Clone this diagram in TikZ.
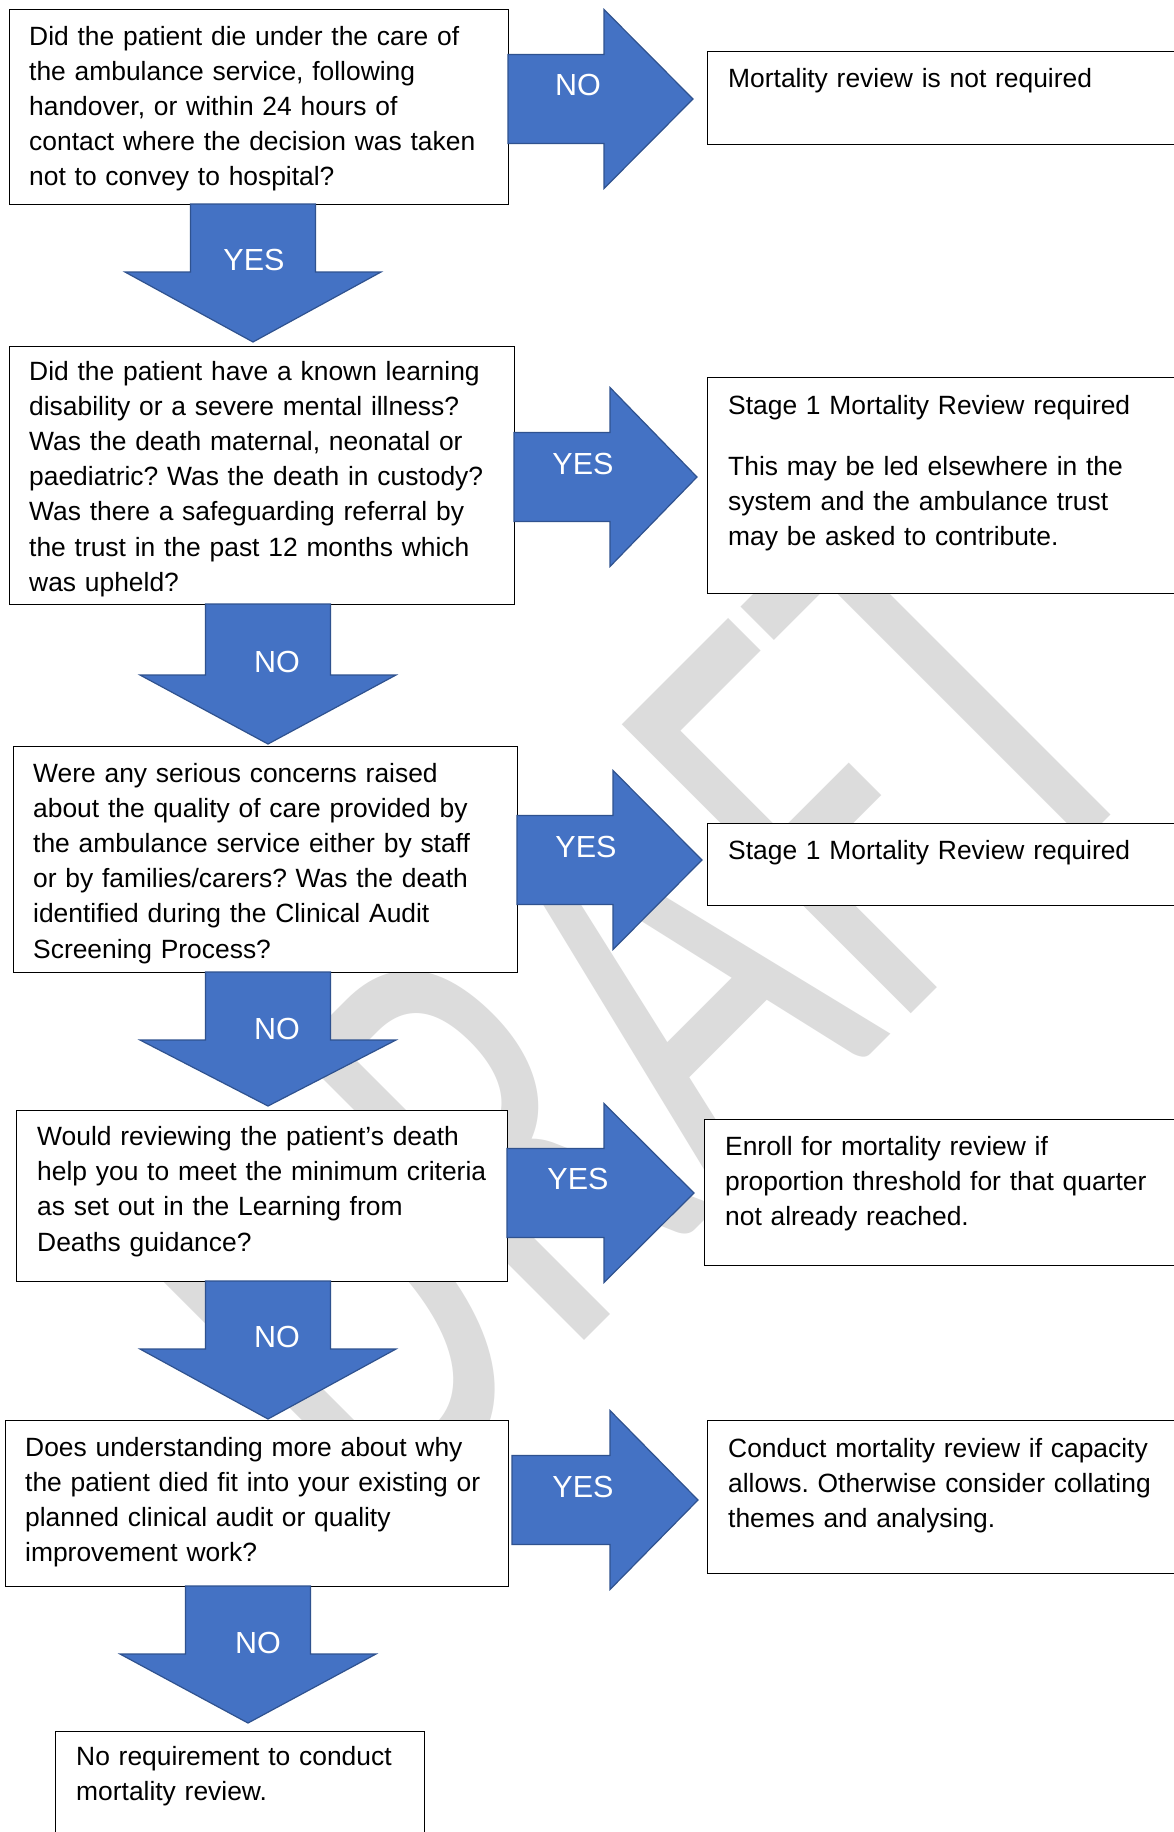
\documentclass[tikz,border=0pt]{standalone}
\usepackage{fontspec}
\setmainfont{Liberation Sans}
\newfontfamily\wmfont{Carlito}
\definecolor{arrowblue}{HTML}{4472C4}
\definecolor{arrowedge}{HTML}{2F528F}
\definecolor{wmgray}{RGB}{220,220,220}
\newcommand{\RightBlock}[4]{%
  \path[blockarrow] (#1,#4-44.5) -- (#2,#4-44.5) -- (#2,#4-89.5) -- (#3,#4)
    -- (#2,#4+89.5) -- (#2,#4+44.5) -- (#1,#4+44.5) -- cycle;}
\newcommand{\DownBlock}[4]{%
  \path[blockarrow] (#1-62.5,#2) -- (#1+62.5,#2) -- (#1+62.5,#3) -- (#1+128,#3)
    -- (#1,#4) -- (#1-128,#3) -- (#1-62.5,#3) -- cycle;}
\begin{document}
\frenchspacing
\begin{tikzpicture}[x=1pt,y=-1pt,
  box/.style={draw=black, line width=1.4pt, fill=white, inner sep=0pt, anchor=north west},
  txt/.style={anchor=base west, inner sep=0pt, align=left, text width=520pt,
    font=\fontsize{26.4}{35.2}\selectfont},
  lbl/.style={text=white, inner sep=0pt, font=\fontsize{30.5}{36}\selectfont},
  blockarrow/.style={fill=arrowblue, draw=arrowedge, line width=1.2pt, line join=miter},
  wmtext/.style={rotate=45, xscale=0.65, anchor=base west, inner sep=0pt, text=wmgray,
    font=\wmfont\fontsize{637}{637}\selectfont},
]
\useasboundingbox (0,0) rectangle (1174,1832);
\clip (0,0) rectangle (1174,1832);
\fill[white] (0,0) rectangle (1174,1832);

% watermark
\node[wmtext] (wm) at (383,1542) {DRAFT};

% left column boxes
\node[box, minimum width=499, minimum height=195] (b1) at (9,9) {};
\node[box, minimum width=505, minimum height=258] (b2) at (9,346) {};
\node[box, minimum width=504, minimum height=226] (b3) at (13,746) {};
\node[box, minimum width=491, minimum height=171] (b4) at (16,1110) {};
\node[box, minimum width=503, minimum height=166] (b5) at (5,1420) {};
\node[box, minimum width=369, minimum height=200] (b6) at (55,1731) {};

% right column boxes
\node[box, minimum width=520, minimum height=93]  (r1) at (707,51) {};
\node[box, minimum width=520, minimum height=216] (r2) at (707,377) {};
\node[box, minimum width=520, minimum height=82]  (r3) at (707,823) {};
\node[box, minimum width=520, minimum height=146] (r4) at (704,1119) {};
\node[box, minimum width=520, minimum height=153] (r5) at (707,1420) {};

% texts
\node[txt] (t1) at (29,45) {Did the patient die under the care of\\
the ambulance service, following\\
handover, or within 24 hours of\\
contact where the decision was taken\\
not to convey to hospital?};
\node[txt] (t2) at (29,380) {Did the patient have a known learning\\
disability or a severe mental illness?\\
Was the death maternal, neonatal or\\
paediatric? Was the death in custody?\\
Was there a safeguarding referral by\\
the trust in the past 12 months which\\
was upheld?};
\node[txt] (t3) at (33,782) {Were any serious concerns raised\\
about the quality of care provided by\\
the ambulance service either by staff\\
or by families/carers? Was the death\\
identified during the Clinical Audit\\
Screening Process?};
\node[txt] (t4) at (37,1145.5) {Would reviewing the patient’s death\\
help you to meet the minimum criteria\\
as set out in the Learning from\\
Deaths guidance?};
\node[txt] (t5) at (25,1456) {Does understanding more about why\\
the patient died fit into your existing or\\
planned clinical audit or quality\\
improvement work?};
\node[txt] (t6) at (76,1765) {No requirement to conduct\\
mortality review.};

\node[txt] (s1) at (728,87) {Mortality review is not required};
\node[txt] (s2) at (728,414) {Stage 1 Mortality Review required\\[25.8pt]
This may be led elsewhere in the\\
system and the ambulance trust\\
may be asked to contribute.};
\node[txt] (s3) at (728,859) {Stage 1 Mortality Review required};
\node[txt] (s4) at (725,1155) {Enroll for mortality review if\\
proportion threshold for that quarter\\
not already reached.};
\node[txt] (s5) at (728,1457) {Conduct mortality review if capacity\\
allows. Otherwise consider collating\\
themes and analysing.};

% block arrows
\RightBlock{508}{604}{693}{99}
\RightBlock{514}{610}{697}{477}
\RightBlock{517}{613}{702}{860}
\RightBlock{507}{604}{694}{1193}
\RightBlock{512}{610}{698}{1500}

\DownBlock{253}{204}{272}{342}
\DownBlock{268}{604}{675}{744}
\DownBlock{268}{972}{1040}{1106}
\DownBlock{268}{1281}{1349}{1419}
\DownBlock{248}{1586}{1654}{1723}

% arrow labels
\node[lbl] (a1) at (578,85) {NO};
\node[lbl] (a2) at (583,464) {YES};
\node[lbl] (a3) at (586,847) {YES};
\node[lbl] (a4) at (578,1179) {YES};
\node[lbl] (a5) at (583,1487) {YES};
\node[lbl] (d1) at (254,260) {YES};
\node[lbl] (d2) at (277,662) {NO};
\node[lbl] (d3) at (277,1029) {NO};
\node[lbl] (d4) at (277,1337) {NO};
\node[lbl] (d5) at (258,1643) {NO};
\end{tikzpicture}
\end{document}
